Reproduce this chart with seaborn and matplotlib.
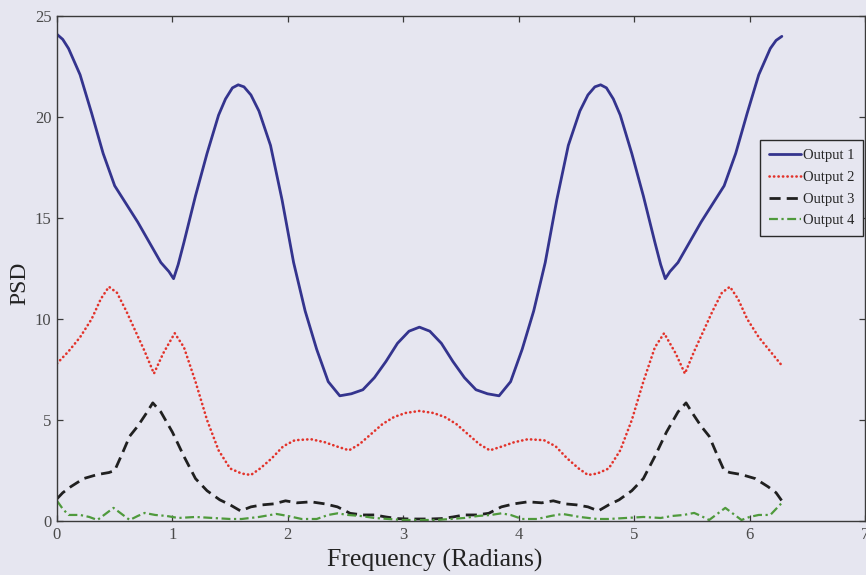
import numpy as np
import pandas as pd
import matplotlib
matplotlib.use("Agg")
import matplotlib.pyplot as plt
import seaborn as sns

# Power spectral density of the four outputs over 0..2*pi rad
out1_freq = [0.00, 0.05, 0.10, 0.20, 0.30, 0.40, 0.50, 0.60, 0.70, 0.80, 0.90, 0.97, 1.01, 1.05,
             1.10, 1.20, 1.30, 1.40, 1.46, 1.52, 1.57, 1.62, 1.68, 1.75, 1.85, 1.95, 2.05, 2.15,
             2.25, 2.35, 2.45, 2.55, 2.65, 2.75, 2.85, 2.95, 3.05, 3.14,
             3.23, 3.33, 3.43, 3.53, 3.63, 3.73, 3.83, 3.93, 4.03, 4.13, 4.23, 4.33, 4.43, 4.53,
             4.60, 4.66, 4.71, 4.76, 4.82, 4.88, 4.98, 5.08, 5.18, 5.23, 5.27, 5.31, 5.38, 5.48,
             5.58, 5.68, 5.78, 5.88, 5.98, 6.08, 6.18, 6.23, 6.28]
out1_psd = [24.1, 23.85, 23.4, 22.1, 20.2, 18.2, 16.6, 15.7, 14.8, 13.8, 12.8, 12.35, 12.0, 12.7,
            13.8, 16.1, 18.2, 20.1, 20.9, 21.45, 21.6, 21.5, 21.1, 20.3, 18.6, 15.9, 12.8, 10.4,
            8.5, 6.9, 6.2, 6.3, 6.5, 7.1, 7.9, 8.8, 9.4, 9.6,
            9.4, 8.8, 7.9, 7.1, 6.5, 6.3, 6.2, 6.9, 8.5, 10.4, 12.8, 15.9, 18.6, 20.3,
            21.1, 21.5, 21.6, 21.45, 20.9, 20.1, 18.2, 16.1, 13.8, 12.7, 12.0, 12.35, 12.8, 13.8,
            14.8, 15.7, 16.6, 18.2, 20.2, 22.1, 23.4, 23.8, 24.0]

out2_freq = [0.00, 0.10, 0.20, 0.30, 0.38, 0.45, 0.52, 0.60, 0.68, 0.76, 0.84, 0.92, 1.02, 1.10,
             1.20, 1.30, 1.40, 1.50, 1.60, 1.68, 1.76, 1.86, 1.96, 2.06, 2.20, 2.32, 2.42, 2.53,
             2.62, 2.72, 2.82, 2.92, 3.02, 3.14,
             3.26, 3.36, 3.46, 3.56, 3.66, 3.75, 3.86, 3.96, 4.08, 4.22, 4.32, 4.42, 4.52, 4.60,
             4.68, 4.78, 4.88, 4.98, 5.08, 5.18, 5.26, 5.36, 5.44, 5.52, 5.60, 5.68, 5.76, 5.83,
             5.90, 5.98, 6.08, 6.18, 6.28]
out2_psd = [7.8, 8.4, 9.1, 10.0, 11.0, 11.6, 11.3, 10.4, 9.4, 8.4, 7.3, 8.3, 9.3, 8.6,
            6.9, 5.0, 3.5, 2.6, 2.35, 2.28, 2.6, 3.1, 3.7, 4.0, 4.05, 3.9, 3.7, 3.5,
            3.8, 4.3, 4.8, 5.15, 5.35, 5.45,
            5.35, 5.15, 4.8, 4.3, 3.8, 3.5, 3.7, 3.9, 4.05, 4.0, 3.7, 3.1, 2.6, 2.28,
            2.35, 2.6, 3.5, 5.0, 6.9, 8.6, 9.3, 8.3, 7.3, 8.4, 9.4, 10.4, 11.3, 11.6,
            11.0, 10.0, 9.1, 8.4, 7.7]

out3_freq = [0.00, 0.05, 0.12, 0.23, 0.35, 0.45, 0.50, 0.57, 0.63, 0.70, 0.77, 0.83, 0.90, 1.00,
             1.10, 1.20, 1.30, 1.41, 1.50, 1.59, 1.68, 1.78, 1.88, 1.98, 2.08, 2.20, 2.32, 2.43,
             2.54, 2.65, 2.75, 2.85, 2.95, 3.05, 3.14,
             3.23, 3.33, 3.43, 3.53, 3.63, 3.74, 3.85, 3.96, 4.08, 4.20, 4.30, 4.40, 4.50, 4.60,
             4.69, 4.78, 4.87, 4.98, 5.08, 5.18, 5.28, 5.38, 5.45, 5.51, 5.58, 5.65, 5.71, 5.78,
             5.83, 5.93, 6.05, 6.16, 6.23, 6.28]
out3_psd = [1.1, 1.4, 1.7, 2.1, 2.3, 2.4, 2.5, 3.4, 4.2, 4.7, 5.3, 5.85, 5.4, 4.4,
            3.2, 2.1, 1.5, 1.05, 0.8, 0.5, 0.7, 0.8, 0.85, 1.0, 0.9, 0.95, 0.85, 0.7,
            0.38, 0.3, 0.3, 0.2, 0.12, 0.1, 0.1,
            0.1, 0.12, 0.2, 0.3, 0.3, 0.38, 0.7, 0.85, 0.95, 0.9, 1.0, 0.85, 0.8, 0.7,
            0.5, 0.8, 1.05, 1.5, 2.1, 3.2, 4.4, 5.4, 5.85, 5.3, 4.7, 4.2, 3.4, 2.5,
            2.4, 2.3, 2.1, 1.7, 1.4, 1.0]

out4_freq = [0.00, 0.05, 0.10, 0.20, 0.28, 0.35, 0.42, 0.49, 0.56, 0.63, 0.70, 0.76, 0.85, 0.95,
             1.05, 1.20, 1.35, 1.50, 1.60, 1.75, 1.90, 2.00, 2.12, 2.25, 2.35, 2.43, 2.52, 2.63,
             2.75, 2.87, 3.00, 3.14,
             3.28, 3.41, 3.53, 3.65, 3.76, 3.85, 3.93, 4.03, 4.16, 4.28, 4.38, 4.53, 4.68, 4.78,
             4.93, 5.08, 5.23, 5.33, 5.43, 5.52, 5.58, 5.65, 5.72, 5.79, 5.86, 5.93, 6.00, 6.08,
             6.18, 6.23, 6.28]
out4_psd = [1.0, 0.6, 0.3, 0.3, 0.2, 0.05, 0.35, 0.65, 0.35, 0.05, 0.25, 0.4, 0.3, 0.25,
            0.15, 0.2, 0.15, 0.1, 0.1, 0.2, 0.35, 0.25, 0.1, 0.1, 0.3, 0.38, 0.3, 0.25,
            0.15, 0.1, 0.05, 0.05,
            0.05, 0.1, 0.15, 0.25, 0.3, 0.38, 0.3, 0.1, 0.1, 0.25, 0.35, 0.2, 0.1, 0.1,
            0.15, 0.2, 0.15, 0.25, 0.3, 0.4, 0.25, 0.05, 0.35, 0.65, 0.35, 0.05, 0.2, 0.3,
            0.3, 0.6, 0.9]

series_names = ["Output 1", "Output 2", "Output 3", "Output 4"]
x_ticks = [0, 1, 2, 3, 4, 5, 6, 7]
y_ticks = [0, 5, 10, 15, 20, 25]

frames = []
for name, fx, fy in zip(series_names,
                        [out1_freq, out2_freq, out3_freq, out4_freq],
                        [out1_psd, out2_psd, out3_psd, out4_psd]):
    frames.append(pd.DataFrame({"freq": fx, "psd": fy, "series": name}))
df = pd.concat(frames, ignore_index=True)

sns.set_theme(style="ticks")
plt.rcParams["font.family"] = ["Liberation Serif", "DejaVu Serif"]

bg = "#E6E6F0"
colors = {"Output 1": "#34348E", "Output 2": "#E2332B",
          "Output 3": "#202020", "Output 4": "#4F9A3C"}
styles = {"Output 1": dict(linestyle="-", linewidth=2.0),
          "Output 2": dict(linestyle=(0, (0.1, 1.6)), linewidth=1.9, dash_capstyle="round"),
          "Output 3": dict(linestyle=(0, (4, 2.2)), linewidth=2.0),
          "Output 4": dict(linestyle=(0, (4, 1.6, 1, 1.6)), linewidth=1.6)}

fig = plt.figure(figsize=(8.66, 5.75), dpi=100, facecolor=bg)
ax = fig.add_axes([0.0658, 0.0939, 0.933, 0.878])
ax.set_facecolor(bg)

for name in series_names:
    sub = df[df["series"] == name]
    sns.lineplot(data=sub, x="freq", y="psd", ax=ax, color=colors[name],
                 label=name, estimator=None, sort=False, **styles[name])

ax.set_xlim(0, 7)
ax.set_ylim(0, 25)
ax.set_xticks(x_ticks)
ax.set_yticks(y_ticks)
ax.tick_params(direction="in", length=4, width=0.9, colors="#3a3a3a",
               labelsize=12, top=True, right=True, pad=4)
for lbl in ax.get_xticklabels() + ax.get_yticklabels():
    lbl.set_color("#4a4a4a")
for s in ax.spines.values():
    s.set_visible(True)
    s.set_color("#3a3a3a")
    s.set_linewidth(1.0)

ax.set_xlabel("Frequency (Radians)", fontsize=18.5, color="#222222")
ax.xaxis.set_label_coords(0.468, -0.055, transform=ax.transAxes)
ax.xaxis.label.set_va("top")
ax.set_ylabel("PSD", fontsize=17, color="#222222")
ax.yaxis.set_label_coords(-0.046, 0.471, transform=ax.transAxes)
ax.yaxis.label.set_va("center")

leg = ax.legend(loc="upper right", bbox_to_anchor=(0.998, 0.754), fontsize=10.5,
                frameon=True, fancybox=False, handlelength=2.2, handletextpad=0.15,
                borderpad=0.6, labelspacing=0.58, borderaxespad=0)
leg.get_frame().set_edgecolor("#2a2a2a")
leg.get_frame().set_facecolor(bg)
leg.get_frame().set_alpha(1.0)
leg.get_frame().set_linewidth(1.0)

fig.savefig("out.png", dpi=100, facecolor=bg)
